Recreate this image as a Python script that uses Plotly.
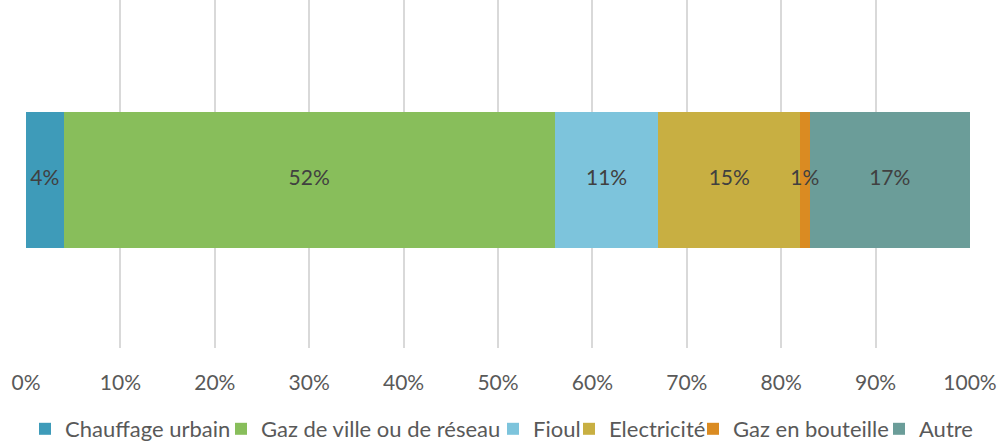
import plotly.graph_objects as go

# Répartition des modes de chauffage (part en %)
categories = ["Chauffage urbain", "Gaz de ville ou de réseau", "Fioul",
              "Electricité", "Gaz en bouteille", "Autre"]
shares = [0.04, 0.52, 0.11, 0.15, 0.01, 0.17]
colors = ["#3E9BB9", "#88BE5B", "#7DC4DC", "#C8AF42", "#DA8B22", "#6B9D99"]
tick_vals = [i / 10 for i in range(11)]
tick_text = [f"{i * 10}%" for i in range(11)]

# left edge of each legend entry, in pixels of the 1000-px-wide page
legend_left_px = [25, 221, 493, 569, 693, 879]

W, H = 1000, 444
ML, MR, MT, MB = 26, 30, 0, 96
plot_w = W - ML - MR

font_family = "Lato, 'Open Sans', sans-serif"

fig = go.Figure()
legend_layout = {}
for i, (name, val, col) in enumerate(zip(categories, shares, colors)):
    key = "legend" if i == 0 else f"legend{i + 1}"
    fig.add_trace(go.Bar(
        y=["mode"], x=[val], name=name, orientation="h",
        marker=dict(color=col, line=dict(width=0)),
        width=0.39, legend=key, hoverinfo="skip",
    ))
    legend_layout[key] = dict(
        x=(legend_left_px[i] - ML) / plot_w, xanchor="left",
        xref="paper",
        y=(H - 429) / H, yanchor="middle", yref="container",
        orientation="h", bgcolor="rgba(0,0,0,0)", borderwidth=0,
        font=dict(family=font_family, size=22, color="#595959"),
    )

# data labels centred on each stacked segment, drawn above all bars
starts = [sum(shares[:i]) for i in range(len(shares))]
centers = [s + v / 2 for s, v in zip(starts, shares)]
fig.add_trace(go.Scatter(
    x=centers, y=["mode"] * len(shares), mode="text",
    text=[f"{v:.0%}" for v in shares], textposition="middle center",
    textfont=dict(family=font_family, size=21, color="#404040"),
    showlegend=False, hoverinfo="skip", cliponaxis=False,
))

fig.update_layout(
    barmode="stack",
    width=W, height=H,
    margin=dict(l=ML, r=MR, t=MT, b=MB, pad=0),
    paper_bgcolor="white", plot_bgcolor="white",
    showlegend=True,
    xaxis=dict(
        range=[0, 1], tickvals=tick_vals, ticktext=tick_text,
        showgrid=True, gridcolor="#D9D9D9", gridwidth=2,
        zeroline=False, showline=False, ticks="",
        ticklabelstandoff=20,
        tickfont=dict(family=font_family, size=21, color="#595959"),
        fixedrange=True,
    ),
    yaxis=dict(
        range=[-0.4827, 0.5173], showticklabels=False, showgrid=False,
        zeroline=False, showline=False, fixedrange=True,
    ),
    **legend_layout,
)

fig.write_html("out.html", config={"displayModeBar": False})
